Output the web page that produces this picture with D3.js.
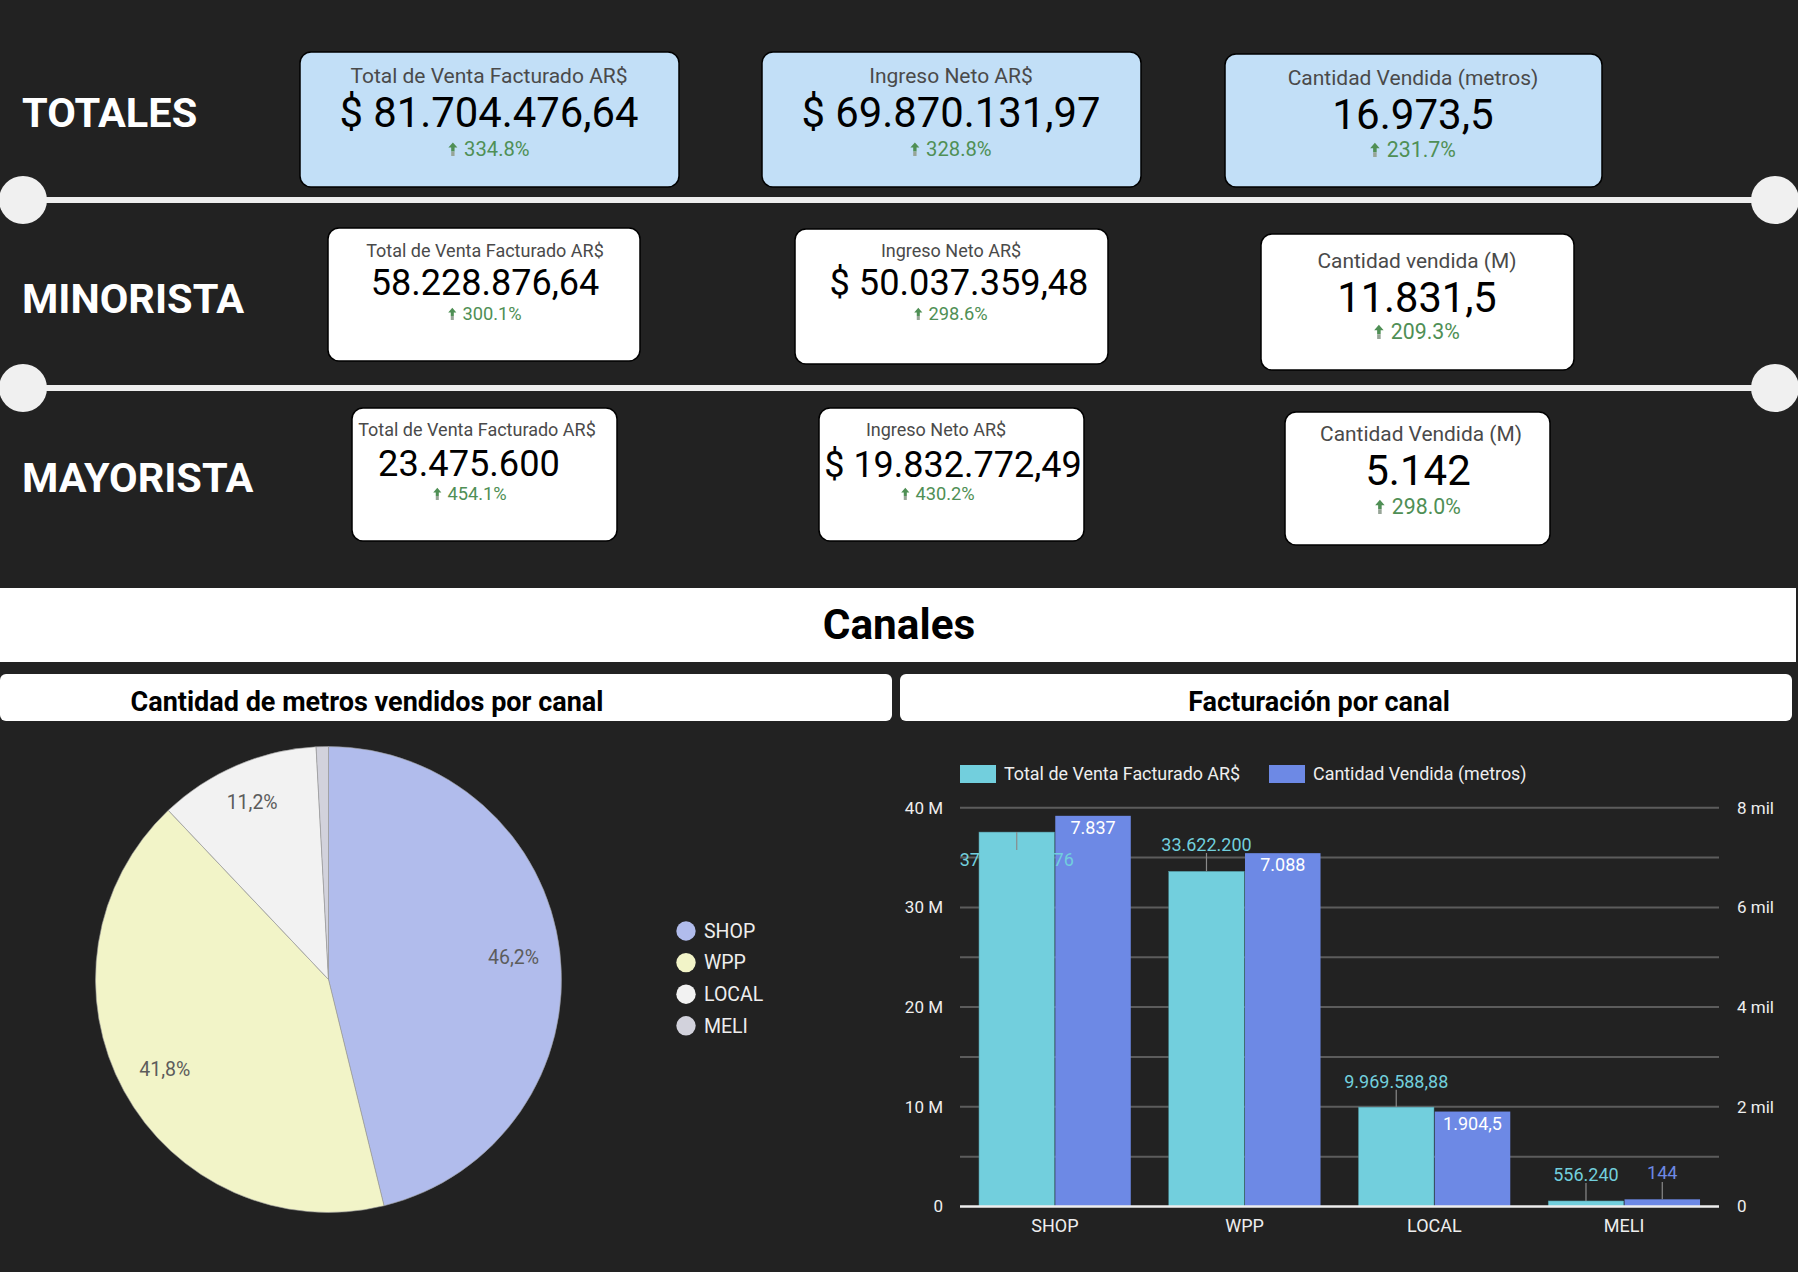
<!DOCTYPE html>
<html><head><meta charset="utf-8">
<script src="https://cdn.jsdelivr.net/npm/d3@7"></script>
<style>html,body{margin:0;padding:0;background:#222222;}svg{display:block;font-family:Roboto,"Noto Sans",sans-serif;}</style>
</head><body>
<svg id="chart" width="1798" height="1272"></svg>
<script>
// ---------- DATA ----------
const kpiSections = ["TOTALES", "MINORISTA", "MAYORISTA"];
const kpiTitles = [
  ["Total de Venta Facturado AR$", "Ingreso Neto AR$", "Cantidad Vendida (metros)"],
  ["Total de Venta Facturado AR$", "Ingreso Neto AR$", "Cantidad vendida (M)"],
  ["Total de Venta Facturado AR$", "Ingreso Neto AR$", "Cantidad Vendida (M)"]
];
const kpiValues = [
  [81704476.64, 69870131.97, 16973.5],
  [58228876.64, 50037359.48, 11831.5],
  [23475600, 19832772.49, 5142]
];
const kpiPrefixes = [
  ["$ ", "$ ", ""],
  ["", "$ ", ""],
  ["", "$ ", ""]
];
const kpiDeltas = [
  [334.8, 328.8, 231.7],
  [300.1, 298.6, 209.3],
  [454.1, 430.2, 298.0]
];
const channels = ["SHOP", "WPP", "LOCAL", "MELI"];
const ventaFacturado = [37556447.76, 33622200, 9969588.88, 556240];
const metrosVendidos = [7837, 7088, 1904.5, 144];
const seriesNames = ["Total de Venta Facturado AR$", "Cantidad Vendida (metros)"];
const leftTicks = [0, 10e6, 20e6, 30e6, 40e6];
const rightTicks = [0, 2000, 4000, 6000, 8000];

// ---------- LAYOUT / STYLE ----------
const svg = d3.select("#chart");
const es = d3.formatLocale({decimal: ",", thousands: ".", grouping: [3], currency: ["$ ", ""]});
const fmtNum = es.format(",.2~f");
const fmtMet = es.format(",.1~f");
const fmtPct = es.format(".1%");
const fmtDelta = d3.format(".1f");

svg.append("rect").attr("width", 1798).attr("height", 1272).attr("fill", "#222222");

// section labels
const sectionBaselines = [127, 313, 492];
svg.selectAll("text.section").data(kpiSections).join("text")
  .attr("class", "section")
  .attr("x", 22).attr("y", (d, i) => sectionBaselines[i])
  .attr("fill", "#ffffff").attr("font-size", 41.5).attr("font-weight", 700)
  .text(d => d);

// separators
[200, 388].forEach(y => {
  svg.append("line").attr("x1", 23).attr("x2", 1775).attr("y1", y).attr("y2", y)
    .attr("stroke", "#eeeeee").attr("stroke-width", 6);
  svg.append("circle").attr("cx", 23).attr("cy", y).attr("r", 24).attr("fill", "#f0f0f0");
  svg.append("circle").attr("cx", 1775).attr("cy", y).attr("r", 24).attr("fill", "#f0f0f0");
});

// card geometry: [x, y, w, h, titleX, titleY, valueY, deltaY, titleSize, valueSize, deltaSize, valueX, deltaX]
const cardGeom = [
  [[300, 52, 379, 135, 489, 83, 127, 156, 21, 41.8, 20.2, 489, 489],
   [762, 52, 379, 135, 951, 83, 127, 156, 21, 41.8, 20.2, 951, 951],
   [1225, 54, 377, 133, 1413, 85, 129, 157, 21, 42.1, 21.3, 1413, 1413]],
  [[328, 228, 312, 133, 485, 257, 295, 320, 18, 36, 18.3, 485, 485],
   [795, 229, 313, 135, 951, 257, 295, 320, 18, 36.2, 18.3, 959, 951],
   [1261, 234, 313, 136, 1417, 268, 312, 339, 20.9, 41.6, 21.3, 1417, 1417]],
  [[352, 408, 265, 133, 477, 436, 476, 500, 18, 36.2, 18.3, 469, 470],
   [819, 408, 265, 133, 936, 436, 477, 500, 18, 36, 18.3, 953, 938],
   [1285, 412, 265, 133, 1421, 441, 485, 514, 20.9, 42, 21.3, 1418, 1418]]
];
const cardFill = ["#c2dff7", "#ffffff", "#ffffff"];
const green = "#4f8f55";

kpiSections.forEach((sec, r) => {
  kpiTitles[r].forEach((t, c) => {
    const g = cardGeom[r][c];
    const grp = svg.append("g");
    grp.append("rect").attr("x", g[0]).attr("y", g[1]).attr("width", g[2]).attr("height", g[3])
      .attr("rx", 11).attr("fill", cardFill[r]).attr("stroke", "#000").attr("stroke-width", 1.5);
    grp.append("text").attr("x", g[4]).attr("y", g[5]).attr("text-anchor", "middle")
      .attr("font-size", g[8]).attr("fill", "#4a4a4a").text(t);
    grp.append("text").attr("x", g[11]).attr("y", g[6]).attr("text-anchor", "middle")
      .attr("font-size", g[9]).attr("fill", "#000").text(kpiPrefixes[r][c] + fmtNum(kpiValues[r][c]));
    const dt = grp.append("text").attr("y", g[7]).attr("font-size", g[10]).attr("fill", green)
      .text(fmtDelta(kpiDeltas[r][c]) + "%");
    const w = dt.node().getComputedTextLength();
    const s = g[10] / 18;
    const gap = 14 * s;
    const ax = g[12] - (w + gap) / 2;
    dt.attr("x", ax + gap);
    const ay = g[7];
    grp.append("path")
      .attr("d", `M${ax + 4 * s},${ay - 12 * s} L${ax + 8 * s},${ay - 7.5 * s} L${ax + 5.5 * s},${ay - 7.5 * s} L${ax + 5.5 * s},${ay - 4 * s} L${ax + 2.5 * s},${ay - 4 * s} L${ax + 2.5 * s},${ay - 7.5 * s} L${ax},${ay - 7.5 * s} Z`)
      .attr("fill", green);
    grp.append("rect").attr("x", ax + 2.5 * s).attr("y", ay - 4 * s).attr("width", 3 * s).attr("height", 4 * s)
      .attr("fill", "#97a597");
  });
});

// ---------- CANALES ----------
svg.append("rect").attr("x", 0).attr("y", 588).attr("width", 1796).attr("height", 74).attr("fill", "#ffffff");
svg.append("text").attr("x", 899).attr("y", 639).attr("text-anchor", "middle")
  .attr("font-size", 42.3).attr("font-weight", 700).attr("fill", "#000").text("Canales");

const subBoxes = [[0, 674, 892, 47, 367, "Cantidad de metros vendidos por canal"],
                  [900, 674, 892, 47, 1319, "Facturación por canal"]];
subBoxes.forEach(b => {
  svg.append("rect").attr("x", b[0]).attr("y", b[1]).attr("width", b[2]).attr("height", b[3])
    .attr("rx", 6).attr("fill", "#ffffff");
  svg.append("text").attr("x", b[4]).attr("y", b[1] + 37).attr("text-anchor", "middle")
    .attr("font-size", 27).attr("font-weight", 700).attr("fill", "#000").text(b[5]);
});

// ---------- PIE ----------
const pieColors = d3.scaleOrdinal().domain(channels).range(["#b1bcec", "#f2f4c8", "#f2f2f2", "#d2d2dc"]);
const pieData = d3.pie().sort(null).value(d => d.v)(channels.map((c, i) => ({c, v: metrosVendidos[i]})));
const total = d3.sum(metrosVendidos);
const R = 233;
const pg = svg.append("g").attr("transform", "translate(328.5,979.5)");
const arc = d3.arc().innerRadius(0).outerRadius(R);
pg.selectAll("path").data(pieData).join("path")
  .attr("d", arc).attr("fill", d => pieColors(d.data.c))
  .attr("stroke", "#9a9a9a").attr("stroke-width", 0.6);
const labelArc = d3.arc().innerRadius(R * 0.8).outerRadius(R * 0.8);
const labelArcSmall = d3.arc().innerRadius(R * 0.83).outerRadius(R * 0.83);
pg.selectAll("text").data(pieData.filter(d => d.data.v / total > 0.05)).join("text")
  .attr("transform", d => `translate(${(d.data.v / total < 0.2 ? labelArcSmall : labelArc).centroid(d)})`)
  .attr("text-anchor", "middle").attr("dy", "0.35em")
  .attr("font-size", 19.5).attr("fill", "#5c5c5c")
  .text(d => fmtPct(d.data.v / total));

const lg = svg.append("g");
channels.forEach((c, i) => {
  const y = 931 + i * 31.6;
  lg.append("circle").attr("cx", 686).attr("cy", y).attr("r", 9.7).attr("fill", pieColors(c));
  lg.append("text").attr("x", 704).attr("y", y).attr("dy", "0.35em")
    .attr("font-size", 19.5).attr("fill", "#eeeeee").text(c);
});

// ---------- BAR CHART ----------
const x0 = d3.scaleBand().domain(channels).range([960, 1719]).paddingInner(0.2).paddingOuter(0.1);
const x1 = d3.scaleBand().domain([0, 1]).range([0, x0.bandwidth()]).paddingInner(0.01);
const yL = d3.scaleLinear().domain([0, 40e6]).range([1206.5, 807.7]);
const yR = d3.scaleLinear().domain([0, 8000]).range([1206.5, 807.7]);
const cyan = "#72cfdd", blue = "#6d89e5";

const bg = svg.append("g");
bg.selectAll("line.grid").data(d3.range(5e6, 40e6 + 1, 5e6)).join("line")
  .attr("x1", 960).attr("x2", 1719).attr("y1", d => yL(d)).attr("y2", d => yL(d))
  .attr("stroke", "#5c5c5c").attr("stroke-width", 2);

const axL = d3.axisLeft(yL).tickValues(leftTicks).tickSize(0).tickPadding(17)
  .tickFormat(d => d === 0 ? "0" : (d / 1e6) + " M");
const gL = bg.append("g").attr("transform", "translate(960,0)").call(axL);
const axR = d3.axisRight(yR).tickValues(rightTicks).tickSize(0).tickPadding(18)
  .tickFormat(d => d === 0 ? "0" : (d / 1000) + " mil");
const gR = bg.append("g").attr("transform", "translate(1719,0)").call(axR);
const axB = d3.axisBottom(x0).tickSize(0).tickPadding(13);
const gB = bg.append("g").attr("transform", "translate(0,1206.5)").call(axB);
[gL, gR].forEach(g => {
  g.select(".domain").remove();
  g.selectAll("text").attr("font-size", 17).attr("fill", "#eeeeee").attr("font-family", "Roboto");
});
gB.select(".domain").remove();
gB.selectAll("text").attr("font-size", 18).attr("fill", "#eeeeee").attr("font-family", "Roboto");

const cat = bg.selectAll("g.cat").data(channels).join("g").attr("class", "cat")
  .attr("transform", d => `translate(${x0(d)},0)`);
cat.append("rect").attr("x", x1(0)).attr("width", x1.bandwidth())
  .attr("y", (d, i) => yL(ventaFacturado[i])).attr("height", (d, i) => yL(0) - yL(ventaFacturado[i]))
  .attr("fill", cyan).attr("stroke", "#4d8f98").attr("stroke-width", 0.5);
cat.append("rect").attr("x", x1(1)).attr("width", x1.bandwidth())
  .attr("y", (d, i) => yR(metrosVendidos[i])).attr("height", (d, i) => yR(0) - yR(metrosVendidos[i]))
  .attr("fill", blue);

bg.append("line").attr("x1", 960).attr("x2", 1719).attr("y1", 1206.5).attr("y2", 1206.5)
  .attr("stroke", "#eeeeee").attr("stroke-width", 2.5);

const cyanLabelY = [860, 845, 1081.7, 1175];
channels.forEach((c, i) => {
  const cx = x0(c) + x1(0) + x1.bandwidth() / 2;
  const top = yL(ventaFacturado[i]);
  const ly = cyanLabelY[i];
  const lineEnd = ly > top ? ly - 10 : ly + 8;
  bg.append("line").attr("x1", cx).attr("x2", cx).attr("y1", top).attr("y2", lineEnd)
    .attr("stroke", "#8a8a8a").attr("stroke-width", 1.2);
  bg.append("text").attr("x", cx).attr("y", ly).attr("dy", "0.35em").attr("text-anchor", "middle")
    .attr("font-size", 18).attr("fill", cyan).text(fmtNum(ventaFacturado[i]));
});
channels.forEach((c, i) => {
  const cx = x0(c) + x1(1) + x1.bandwidth() / 2;
  const top = yR(metrosVendidos[i]);
  if (i < 3) {
    bg.append("text").attr("x", cx).attr("y", top + 12).attr("dy", "0.35em").attr("text-anchor", "middle")
      .attr("font-size", 18).attr("fill", "#ffffff").text(fmtMet(metrosVendidos[i]));
  } else {
    bg.append("line").attr("x1", cx).attr("x2", cx).attr("y1", top).attr("y2", 1182)
      .attr("stroke", "#8a8a8a").attr("stroke-width", 1.2);
    bg.append("text").attr("x", cx).attr("y", 1173).attr("dy", "0.35em").attr("text-anchor", "middle")
      .attr("font-size", 18).attr("fill", blue).text(fmtMet(metrosVendidos[i]));
  }
});

const leg = svg.append("g");
const legX = [960, 1269];
seriesNames.forEach((n, i) => {
  leg.append("rect").attr("x", legX[i]).attr("y", 765).attr("width", 36).attr("height", 18)
    .attr("fill", i === 0 ? cyan : blue);
  leg.append("text").attr("x", legX[i] + 44).attr("y", 774).attr("dy", "0.35em")
    .attr("font-size", 17.9).attr("fill", "#eeeeee").text(n);
});
</script>
</body></html>
